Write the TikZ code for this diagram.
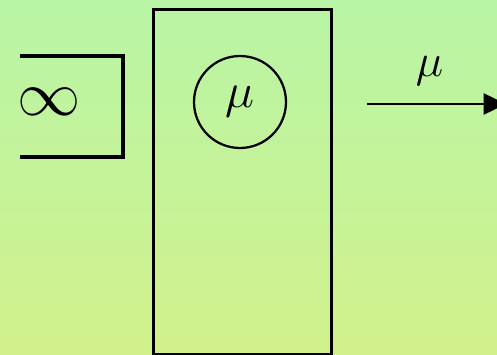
\documentclass[tikz,border=0pt]{standalone}
\usepackage{fix-cm}
\usepackage{tikz}
\usetikzlibrary{arrows.meta,positioning}
\definecolor{bgtop}{RGB}{184,245,166}
\definecolor{bgbot}{RGB}{210,241,140}

\begin{document}
\begin{tikzpicture}[x=0.25mm, y=-0.25mm, >=Triangle]
% background
\shade[top color=bgtop, bottom color=bgbot] (0,0) rectangle (497,355);
\useasboundingbox (0,0) rectangle (497,355);
% source buffer
\draw[line width=2.2pt] (20,56)--(123,56)--(123,157)--(20,157);
\node[font=\fontsize{45}{50}\selectfont, inner sep=0pt] (inf) at (49,102) {$\infty$};
% server
\node[rectangle, draw, line width=2.2pt, minimum width=178*0.25mm, minimum height=345*0.25mm, anchor=north west, inner sep=0pt] (srv) at (152,8) {};
\node[circle, draw, line width=1.6pt, minimum size=92*0.25mm, inner sep=0pt, font=\fontsize{35}{40}\selectfont] (rate) at (240,102) {$\mu$};
% output
\coordinate (outa) at (367,104);
\coordinate (outb) at (506,104);
\draw[line width=2pt, -{Triangle[length=16pt,width=15pt]}] (outa)--node[above=9pt, pos=0.45, font=\fontsize{33}{38}\selectfont]{$\mu$}(outb);
\end{tikzpicture}
\end{document}
